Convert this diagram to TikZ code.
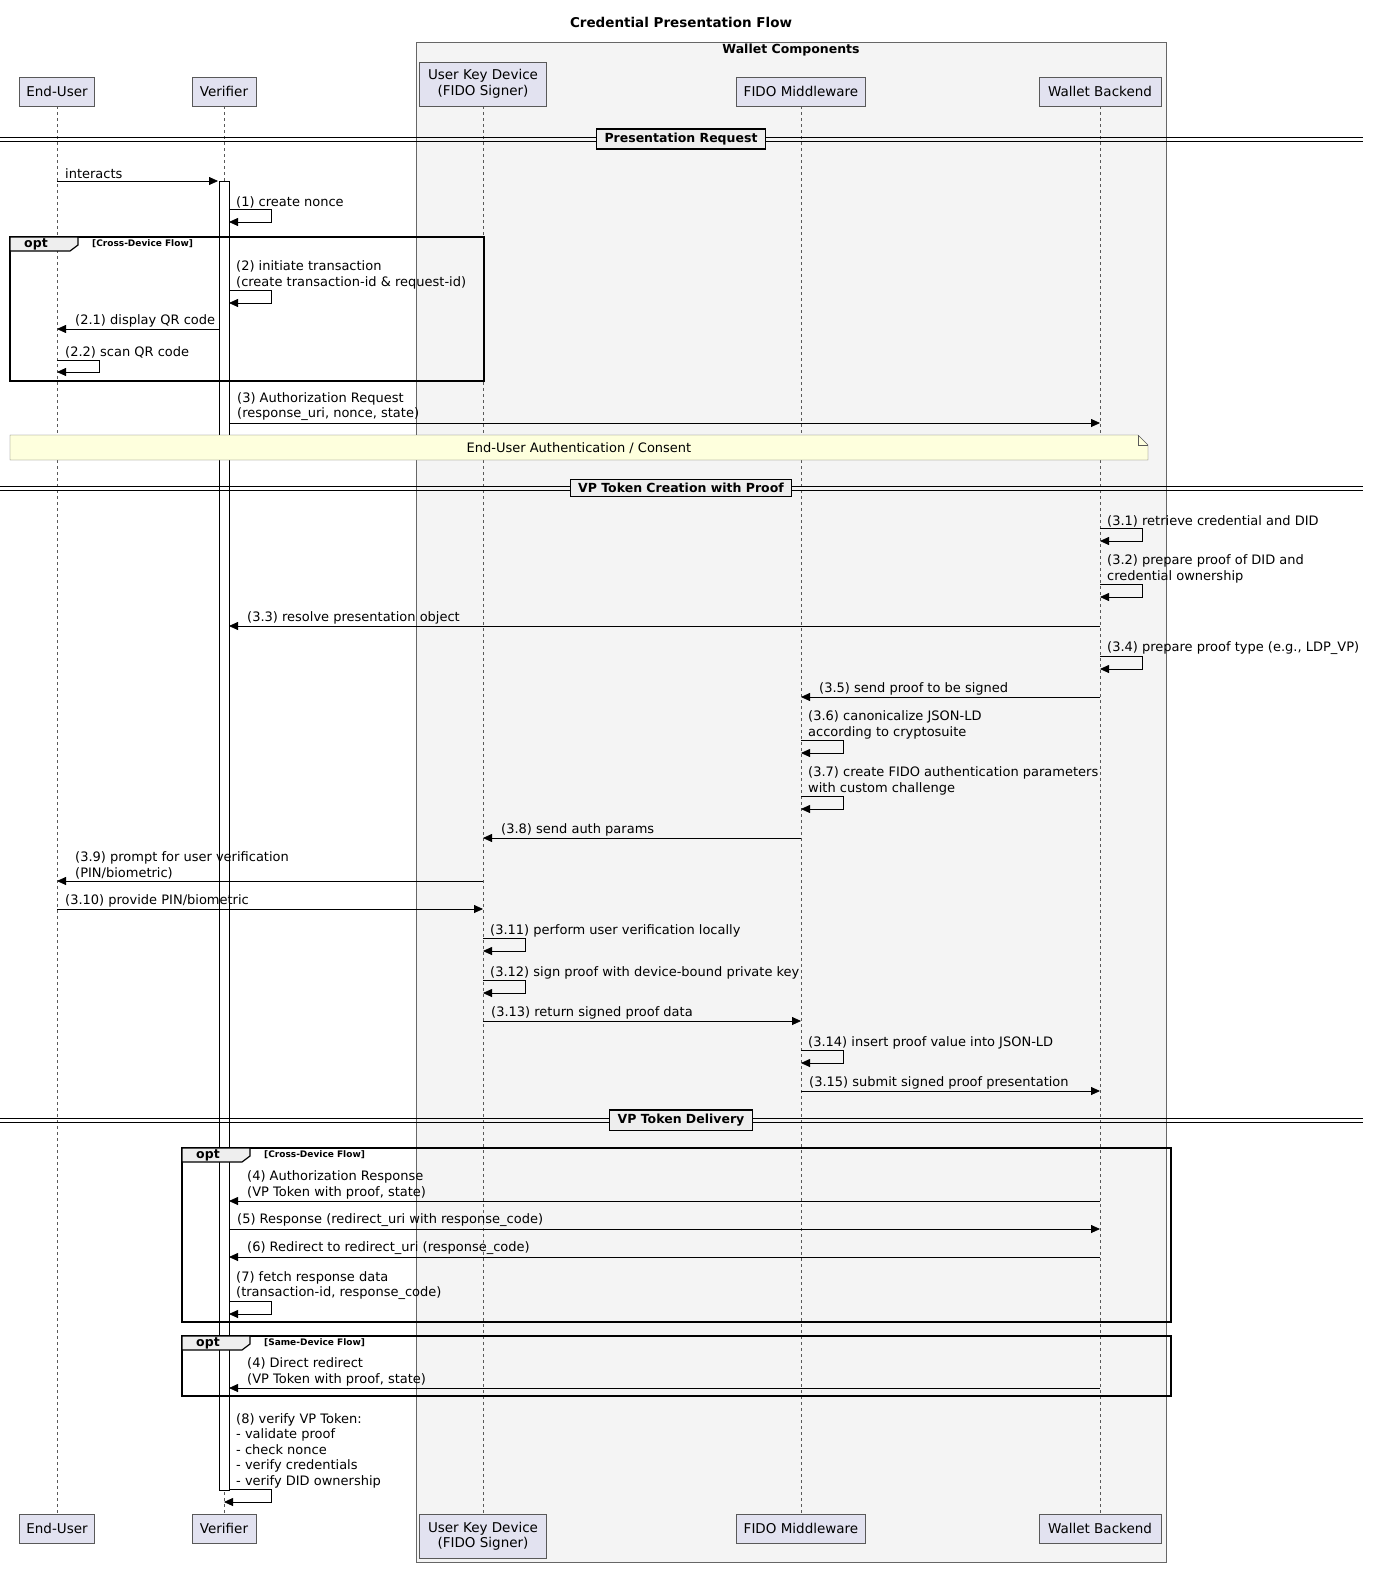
\documentclass[tikz,border=0pt]{standalone}
\usepackage{fontspec}
\setmainfont{DejaVu Sans}
\usetikzlibrary{arrows.meta}
\definecolor{partfill}{HTML}{E2E2F0}
\definecolor{boxfill}{HTML}{F4F4F4}
\definecolor{notefill}{HTML}{FEFFDD}
\definecolor{divfill}{HTML}{EEEEEE}
\newcommand\selfmsg[3]{%
  \draw[arr] (#1,#2) -- ++(42,0) -- ++(0,13) -- ++(-42,0);
  \node[lbl] at (#1+7,#2-1) {#3};}
\newcommand\rmsg[4]{% from to y text
  \draw[arr] (#1,#3) -- (#2,#3);
  \node[lbl] at (#1+8,#3-2) {#4};}
\newcommand\lmsg[4]{% from to y text
  \draw[arr] (#1,#3) -- (#2,#3);
  \node[lbl] at (#2+18,#3-2) {#4};}
\newcommand\divider[2]{%
  \draw[line width=0.8pt] (0,#1-2) -- (1363,#1-2) (0,#1+2) -- (1363,#1+2);
  \node[draw, line width=1.2pt, fill=divfill, font=\bfseries\fontsize{12.5}{14}\selectfont, inner xsep=8pt, inner ysep=4pt] at (681,#1) {#2};}
\newcommand\optframe[5]{% x1 y1 x2 y2 cond
  \draw[line width=1.2pt] (#1,#2) rectangle (#3,#4);
  \draw[line width=1.2pt, fill=divfill] (#1,#2) -- (#1+68,#2) -- (#1+68,#2+8) -- (#1+60,#2+14) -- (#1,#2+14) -- cycle;
  \node[font=\bfseries\fontsize{12.5}{14}\selectfont] at (#1+26,#2+7) {opt};
  \node[anchor=west, font=\bfseries\fontsize{9}{11}\selectfont, inner sep=0pt] at (#1+82,#2+7) {#5};}
\begin{document}
\begin{tikzpicture}[x=1pt,y=-1pt,
 part/.style={draw=gray!70!black, fill=partfill, inner sep=3pt, align=center, font=\fontsize{13.5}{15.5}\selectfont},
 arr/.style={-{Triangle[length=9pt,width=8pt]}, line width=0.8pt},
 lbl/.style={anchor=south west, align=left, inner sep=0pt, font=\fontsize{13}{15.5}\selectfont},
 life/.style={dashed, gray!70!black, line width=0.5pt, dash pattern=on 3pt off 3pt}]
\useasboundingbox (0,0) rectangle (1393,1595);
\node[font=\bfseries\fontsize{13.5}{15}\selectfont] (title) at (681,22) {Credential Presentation Flow};
\draw[gray!80!black, fill=boxfill] (416,42) rectangle (1166,1562);
\node[font=\bfseries\fontsize{12.5}{14}\selectfont] (wc) at (791,50) {Wallet Components};
% lifelines
\foreach \x in {57,224,483,801,1100} \draw[life] (\x,106) -- (\x,1514);
% participants
\foreach \n/\x/\w/\t in {eu/57/75/End-User, ve/224/64/Verifier, fm/801/129/FIDO Middleware, wb/1100/122/Wallet Backend}{
  \node[part, minimum width=\w pt, minimum height=29pt] (\n top) at (\x,91.5) {\t};
  \node[part, minimum width=\w pt, minimum height=29pt] (\n bot) at (\x,1528.5) {\t};}
\node[part, minimum width=127pt, minimum height=44pt] (uktop) at (483,84) {User Key Device\\(FIDO Signer)};
\node[part, minimum width=127pt, minimum height=44pt] (ukbot) at (483,1536.5) {User Key Device\\(FIDO Signer)};
% activation
\draw[fill=white, line width=0.8pt] (219,181) rectangle (229,1490);
\divider{139}{Presentation Request}
\rmsg{57}{218}{181}{interacts}
\selfmsg{229}{209}{(1) create nonce}
\optframe{10}{237}{484}{381}{[Cross-Device Flow]}
\selfmsg{229}{290}{(2) initiate transaction\\(create transaction-id \& request-id)}
\lmsg{219}{57}{329}{(2.1) display QR code}
\draw[arr] (57,360) -- ++(42,0) -- ++(0,12) -- ++(-42,0);
\node[lbl] at (65,358) {(2.2) scan QR code};
\rmsg{229}{1100}{423}{(3) Authorization Request\\(response\_uri, nonce, state)}
\draw[gray!70!black, fill=notefill] (10,435) -- (1138,435) -- (1148,445) -- (1148,460) -- (10,460) -- cycle;
\draw[gray!70!black] (1138,435) -- (1138,445) -- (1148,445);
\node[font=\fontsize{13}{15}\selectfont] (note) at (579,448) {End-User Authentication / Consent};
\divider{488}{VP Token Creation with Proof}
\selfmsg{1100}{528}{(3.1) retrieve credential and DID}
\selfmsg{1100}{584}{(3.2) prepare proof of DID and\\credential ownership}
\lmsg{1100}{229}{626}{(3.3) resolve presentation object}
\selfmsg{1100}{656}{(3.4) prepare proof type (e.g., LDP\_VP)}
\lmsg{1100}{801}{697}{(3.5) send proof to be signed}
\selfmsg{801}{740}{(3.6) canonicalize JSON-LD\\according to cryptosuite}
\selfmsg{801}{796}{(3.7) create FIDO authentication parameters\\with custom challenge}
\lmsg{801}{483}{838}{(3.8) send auth params}
\lmsg{483}{57}{881}{(3.9) prompt for user verification\\(PIN/biometric)}
\rmsg{57}{483}{909}{(3.10) provide PIN/biometric}
\selfmsg{483}{938}{(3.11) perform user verification locally}
\selfmsg{483}{980}{(3.12) sign proof with device-bound private key}
\rmsg{483}{801}{1021}{(3.13) return signed proof data}
\selfmsg{801}{1050}{(3.14) insert proof value into JSON-LD}
\rmsg{801}{1100}{1091}{(3.15) submit signed proof presentation}
\divider{1120}{VP Token Delivery}
\optframe{182}{1148}{1171}{1322}{[Cross-Device Flow]}
\lmsg{1100}{229}{1201}{(4) Authorization Response\\(VP Token with proof, state)}
\rmsg{229}{1100}{1229}{(5) Response (redirect\_uri with response\_code)}
\lmsg{1100}{229}{1257}{(6) Redirect to redirect\_uri (response\_code)}
\selfmsg{229}{1301}{(7) fetch response data\\(transaction-id, response\_code)}
\optframe{182}{1336}{1171}{1396}{[Same-Device Flow]}
\lmsg{1100}{229}{1388}{(4) Direct redirect\\(VP Token with proof, state)}
\draw[arr] (229,1489) -- ++(42,0) -- ++(0,13) -- (224,1502);
\node[lbl] at (236,1488) {(8) verify VP Token:\\- validate proof\\- check nonce\\- verify credentials\\- verify DID ownership};
\end{tikzpicture}
\end{document}
